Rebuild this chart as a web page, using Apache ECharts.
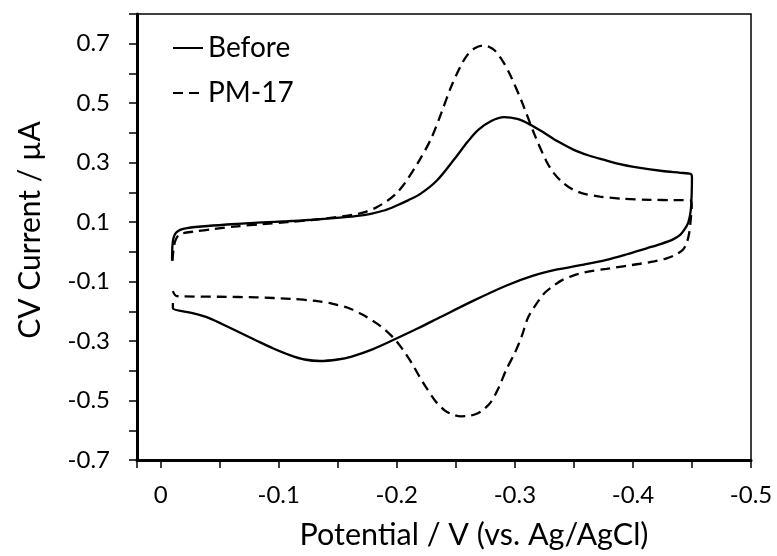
<!DOCTYPE html>
<html>
<head>
<meta charset="utf-8">
<script src="https://cdn.jsdelivr.net/npm/echarts@6/dist/echarts.min.js"></script>
<style>
  html, body { margin: 0; padding: 0; background: #fff; }
  #chart { width: 777px; height: 556px; }
</style>
</head>
<body>
<div id="chart"></div>
<script>
// Series names
const seriesNames = ['Before', 'PM-17'];

// "Before" CV loop: potential (V) and current (µA), in scan order
const beforeX = [-0.0097, -0.0100, -0.0110, -0.0130, -0.0165, -0.0224, -0.040, -0.065, -0.086, -0.107, -0.128, -0.149, -0.165, -0.178, -0.190, -0.200, -0.210, -0.220, -0.234, -0.249, -0.260, -0.269, -0.280, -0.291, -0.302, -0.313, -0.325, -0.337, -0.350, -0.362, -0.375, -0.388, -0.4006, -0.425, -0.440, -0.449,
  -0.4500, -0.4498, -0.4490, -0.4470, -0.4440, -0.4400, -0.4340, -0.4240, -0.4116, -0.395, -0.3777, -0.357, -0.335, -0.3156, -0.293, -0.265, -0.2366, -0.218, -0.1988, -0.180, -0.1618, -0.150, -0.1348, -0.122, -0.110, -0.095, -0.081, -0.060, -0.0406, -0.025, -0.0104, -0.0104];
const beforeY = [-0.029, 0.020, 0.048, 0.064, 0.074, 0.080, 0.087, 0.094, 0.099, 0.103, 0.108, 0.114, 0.120, 0.128, 0.140, 0.156, 0.174, 0.195, 0.240, 0.313, 0.370, 0.410, 0.440, 0.453, 0.447, 0.428, 0.400, 0.370, 0.343, 0.325, 0.310, 0.296, 0.286, 0.272, 0.266, 0.262,
  0.250, 0.200, 0.140, 0.100, 0.077, 0.057, 0.042, 0.027, 0.012, -0.008, -0.027, -0.044, -0.060, -0.080, -0.113, -0.164, -0.220, -0.257, -0.293, -0.327, -0.352, -0.362, -0.367, -0.362, -0.348, -0.324, -0.298, -0.258, -0.222, -0.204, -0.190, -0.172];

// "PM-17" CV loop: potential (V) and current (µA), in scan order
const pmX = [-0.0100, -0.0110, -0.0125, -0.0155, -0.020, -0.028, -0.045, -0.065, -0.086, -0.107, -0.128, -0.149, -0.162, -0.172, -0.182, -0.192, -0.200, -0.207, -0.218, -0.229, -0.238, -0.246, -0.2535, -0.2594, -0.266, -0.2728, -0.278, -0.283, -0.290, -0.2963, -0.306, -0.3166, -0.3267, -0.333, -0.340, -0.348, -0.358, -0.372, -0.390, -0.4143, -0.435, -0.449,
  -0.4498, -0.4490, -0.4475, -0.4455, -0.4425, -0.4360, -0.4285, -0.418, -0.406, -0.3777, -0.360, -0.3494, -0.340, -0.3325, -0.3260, -0.3212, -0.3113, -0.306, -0.300, -0.293, -0.2865, -0.2795, -0.272, -0.266, -0.2600, -0.2543, -0.248, -0.2408, -0.233, -0.2257, -0.219, -0.2122, -0.205, -0.1988, -0.190, -0.182, -0.170, -0.1585, -0.145, -0.1315, -0.110, -0.081, -0.050, -0.0137, -0.0104];
const pmY = [-0.030, 0.010, 0.038, 0.058, 0.064, 0.068, 0.077, 0.086, 0.093, 0.100, 0.107, 0.117, 0.124, 0.133, 0.148, 0.172, 0.198, 0.232, 0.300, 0.380, 0.470, 0.555, 0.620, 0.660, 0.685, 0.694, 0.690, 0.677, 0.640, 0.593, 0.504, 0.395, 0.305, 0.265, 0.235, 0.212, 0.196, 0.186, 0.179, 0.175, 0.174, 0.173,
  0.150, 0.110, 0.060, 0.030, 0.008, -0.010, -0.022, -0.032, -0.040, -0.057, -0.068, -0.080, -0.095, -0.115, -0.135, -0.158, -0.220, -0.282, -0.340, -0.394, -0.455, -0.506, -0.535, -0.547, -0.552, -0.553, -0.548, -0.534, -0.503, -0.461, -0.418, -0.371, -0.328, -0.296, -0.262, -0.238, -0.209, -0.188, -0.174, -0.165, -0.158, -0.153, -0.151, -0.149, -0.132];

// Axis settings
const xMin = -0.5, xMax = 0.02, xInterval = 0.05;
const yMin = -0.7, yMax = 0.8, yInterval = 0.1;
const xTitle = 'Potential / V (vs. Ag/AgCl)';
const yTitle = 'CV Current / µA';

const FONT = 'Lato';

function pairs(xs, ys) { return xs.map((x, i) => [x, ys[i]]); }

const chart = echarts.init(document.getElementById('chart'), null, { renderer: 'canvas' });
chart.setOption({
  animation: false,
  backgroundColor: '#fff',
  textStyle: { fontFamily: FONT, color: '#000' },
  grid: {
    left: 137, right: 26, top: 14, bottom: 95,
    show: true, borderColor: '#000', borderWidth: 1.5
  },
  legend: {
    orient: 'vertical',
    left: 172, top: 33, padding: 0,
    itemWidth: 30, itemHeight: 14, itemGap: 15,
    itemStyle: { opacity: 0 },
    textStyle: { fontFamily: FONT, fontSize: 28, color: '#000', lineHeight: 30 },
    data: seriesNames
  },
  xAxis: {
    type: 'value',
    inverse: true,
    min: xMin, max: xMax, interval: xInterval,
    name: xTitle,
    nameLocation: 'middle',
    nameGap: 60,
    nameTextStyle: { fontFamily: FONT, fontSize: 30.5, color: '#000', padding: [0, 0, 0, 60] },
    axisLine: { show: true, onZero: false, lineStyle: { color: '#000', width: 3 } },
    axisTick: { show: true, inside: false, length: 8, lineStyle: { color: '#000', width: 1.5 } },
    axisLabel: {
      fontFamily: FONT, fontSize: 24, color: '#000', margin: 23,
      showMinLabel: true, showMaxLabel: true,
      formatter: function (v) {
        const h = Math.round(v * 100);
        if (h % 10 !== 0 || h > 0) return '';
        if (h === 0) return '0';
        return (h / 100).toFixed(1);
      }
    },
    splitLine: { show: false }
  },
  yAxis: {
    type: 'value',
    min: yMin, max: yMax, interval: yInterval,
    name: yTitle,
    nameLocation: 'middle',
    nameGap: 92,
    nameTextStyle: { fontFamily: FONT, fontSize: 30, color: '#000', padding: [0, 0, 0, 14] },
    axisLine: { show: true, onZero: false, lineStyle: { color: '#000', width: 3 } },
    axisTick: { show: true, inside: false, length: 8, lineStyle: { color: '#000', width: 1.5 } },
    axisLabel: {
      fontFamily: FONT, fontSize: 24, color: '#000', margin: 27,
      formatter: function (v) {
        const t = Math.round(v * 10);
        if (Math.abs(t) % 2 !== 1) return '';
        return (t / 10).toFixed(1);
      }
    },
    splitLine: { show: false }
  },
  series: [
    {
      name: seriesNames[0], type: 'line', symbol: 'none', smooth: 0.3,
      lineStyle: { color: '#000', width: 2.3, type: 'solid' },
      itemStyle: { color: '#000' },
      data: pairs(beforeX, beforeY)
    },
    {
      name: seriesNames[1], type: 'line', symbol: 'none', smooth: 0.3,
      lineStyle: { color: '#000', width: 2.3, type: [10, 6] },
      itemStyle: { color: '#000' },
      data: pairs(pmX, pmY)
    }
  ]
});
</script>
</body>
</html>
